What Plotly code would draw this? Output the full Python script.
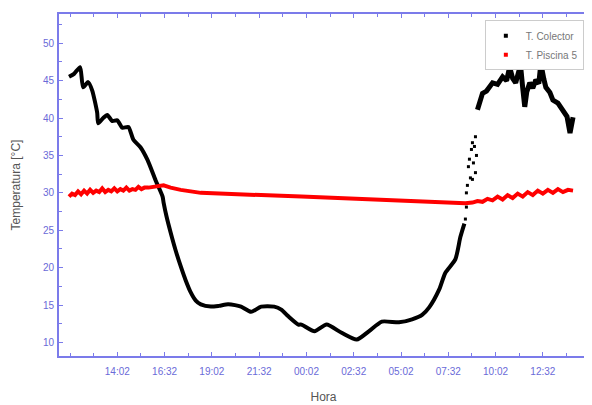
import plotly.graph_objects as go

# x in hours (continuous clock: 24+ means next day)
px_to_h = lambda p: 11.533 + (p - 70) / 18.8

colector_px = [69, 74, 80, 83, 88, 92, 97, 98, 103, 107, 112, 117, 122, 128, 133, 140, 147, 155, 162,
               163, 166, 170, 175, 180, 185, 190, 195, 200, 210, 218, 227, 234, 240, 250, 260, 273, 280,
               287, 297, 300, 313, 325, 340, 355, 367, 380, 397, 410, 420, 427, 437, 443, 453, 458, 462]
colector_t = [45.5, 45.9, 46.8, 44.1, 44.8, 43.7, 40.7, 39.3, 40.0, 40.4, 39.6, 39.7, 38.7, 38.8, 37.1, 36.1, 34.4, 31.7, 29.5,
              28.7, 26.8, 24.7, 22.3, 20.2, 18.3, 16.7, 15.6, 15.1, 14.8, 14.9, 15.1, 15.0, 14.8, 14.1, 14.8, 14.8, 14.4,
              13.5, 12.4, 12.4, 11.5, 12.4, 11.3, 10.4, 11.5, 12.8, 12.7, 13.1, 13.7, 14.7, 17.1, 19.3, 21.1, 24.1, 25.9]

# sparse transition points (morning jump)
jump_px = [463, 464, 464, 465, 466, 467, 468, 469, 470, 470, 471, 472, 473, 473, 474]
jump_t = [26.5, 28.1, 30.0, 31.0, 33.5, 34.5, 32.0, 35.8, 36.7, 31.8, 34.0, 36.2, 32.7, 37.5, 35.0]

colector2_px = [475, 478, 480, 484, 490, 495, 500, 504, 507, 510, 513, 516, 518, 520, 522, 524, 527, 530, 533,
                536, 538, 541, 543, 547, 550, 555, 560, 564, 567, 569, 570]
colector2_t = [41.1, 42.3, 43.3, 43.6, 44.7, 44.5, 45.5, 45.0, 46.8, 45.3, 44.7, 46.2, 46.8, 44.0, 41.5, 43.5, 44.7, 44.0, 45.1,
               44.6, 47.3, 45.2, 44.1, 43.4, 42.4, 42.0, 41.1, 40.2, 38.0, 39.0, 40.1]

piscina_px = [69, 72, 75, 78, 81, 84, 87, 90, 93, 96, 99, 102, 105, 108, 111, 114, 117, 120, 123, 126, 129,
              132, 135, 138, 141, 144, 148, 152, 156, 160, 163, 170, 180, 200, 230, 260, 300,
              350, 400, 430, 463, 470, 475, 480, 485, 490, 495, 500, 505, 510, 515, 520, 525, 530,
              535, 540, 545, 550, 555, 560, 565, 570]
piscina_t = [29.5, 29.9, 29.7, 30.2, 29.8, 30.3, 29.9, 30.4, 30.0, 30.3, 30.1, 30.6, 30.1, 30.4, 30.2, 30.6, 30.2, 30.5, 30.3,
             30.7, 30.3, 30.5, 30.4, 30.8, 30.5, 30.7, 30.7, 30.8, 30.9, 31.0, 31.0, 30.7, 30.4, 30.0, 29.8, 29.7, 29.5,
             29.2, 28.9, 28.7, 28.6, 28.7, 28.9, 28.8, 29.2, 29.0, 29.5, 29.1, 29.7, 29.3, 29.9, 29.5, 30.1, 29.7,
             30.3, 29.9, 30.4, 30.0, 30.5, 30.1, 30.4, 30.3]

tick_vals = [14.033, 16.533, 19.033, 21.533, 24.033, 26.533, 29.033, 31.533, 34.033, 36.533]
tick_text = ["14:02", "16:32", "19:02", "21:32", "00:02", "02:32", "05:02", "07:32", "10:02", "12:32"]

x1 = [px_to_h(p) for p in colector_px]
xj = [px_to_h(p) for p in jump_px]
x2 = [px_to_h(p) for p in colector2_px]
xr = [px_to_h(p) for p in piscina_px]

fig = go.Figure()
fig.add_trace(go.Scatter(x=x1, y=colector_t, mode="lines", line=dict(color="black", width=4, shape="spline", smoothing=0.6),
                         showlegend=False))
fig.add_trace(go.Scatter(x=xj, y=jump_t, mode="markers", marker=dict(color="black", size=3, symbol="square"),
                         showlegend=False))
fig.add_trace(go.Scatter(x=x2, y=colector2_t, mode="lines", line=dict(color="black", width=5),
                         showlegend=False))
fig.add_trace(go.Scatter(x=xr, y=piscina_t, mode="lines", line=dict(color="#ff0000", width=4),
                         showlegend=False))
fig.add_trace(go.Scatter(x=[None], y=[None], mode="markers", name="T. Colector",
                         marker=dict(color="black", size=4, symbol="square")))
fig.add_trace(go.Scatter(x=[None], y=[None], mode="markers", name="T. Piscina 5",
                         marker=dict(color="#ff0000", size=4, symbol="square")))

axis_color = "#7b7bea"
tick_font = dict(family="Liberation Sans, Arial, sans-serif", size=10, color="#6a6ad8")

fig.update_layout(
    width=584, height=397,
    margin=dict(l=51, r=4, t=6, b=49),
    paper_bgcolor="white", plot_bgcolor="white",
    font=dict(family="Liberation Sans, Arial, sans-serif", color="#555555"),
    legend=dict(x=0.805, y=0.982, xanchor="left", yanchor="top", bgcolor="white",
                bordercolor="#cccccc", borderwidth=1, font=dict(size=10, color="#777777"),
                itemwidth=30, tracegroupgap=0),
    xaxis=dict(range=[10.95, 38.92], tickvals=tick_vals, ticktext=tick_text, ticks="inside",
               ticklen=4, tickcolor=axis_color, showline=True, linecolor=axis_color, linewidth=2,
               mirror="ticks", showgrid=False, zeroline=False, tickfont=tick_font, ticklabelstandoff=5,
               automargin=False,
               minor=dict(tickvals=[11.533, 12.783, 15.283, 17.783, 20.283, 22.783, 25.283, 27.783,
                                    30.283, 32.783, 35.283, 37.783],
                          ticks="inside", ticklen=3, tickcolor=axis_color),
               title=dict(text="Hora", font=dict(size=12, color="#555555"), standoff=17)),
    yaxis=dict(range=[8.2, 53.9], tickvals=[10, 15, 20, 25, 30, 35, 40, 45, 50], ticks="inside",
               ticklen=4, tickcolor=axis_color, showline=True, linecolor=axis_color, linewidth=2,
               mirror="ticks", showgrid=False, zeroline=False, tickfont=tick_font, ticklabelstandoff=1,
               automargin=False,
               minor=dict(dtick=2.5, ticks="inside", ticklen=3, tickcolor=axis_color),
               title=dict(text="Temperatura [°C]", font=dict(size=12, color="#555555"), standoff=20)),
)

fig.write_html("out.html")
